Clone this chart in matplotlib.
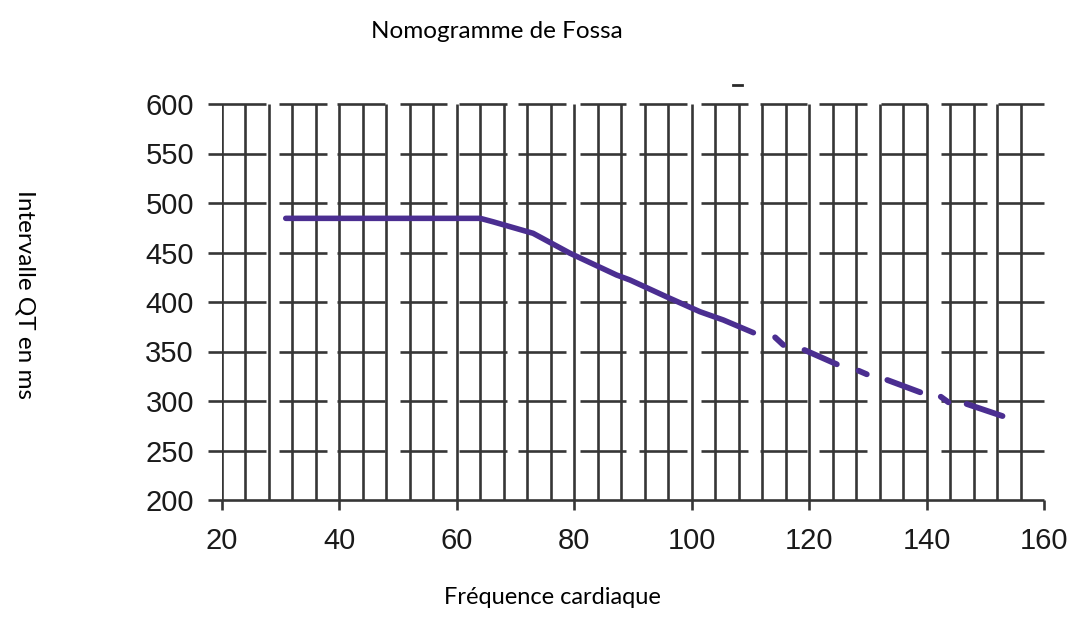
import numpy as np
import matplotlib.pyplot as plt

# Fossa nomogram - QT limit vs heart rate
hr_solid = [30.9, 40, 50, 60, 64.0, 66.2, 73.0, 79.3, 87.2, 89.5, 95.7, 101.4, 105.4, 110.5]
qt_solid = [484.5, 484.5, 484.5, 484.5, 484.5, 481.0, 469.4, 449.2, 427.3, 422.2, 405.3, 390.2, 381.8, 369.0]

# dashed tail, each dash drawn on its own (irregular dashes in the source)
hr_dashes = [(114.2, 115.6), (119.2, 124.7), (128.4, 129.8), (133.3, 138.9), (142.4, 143.7), (146.8, 152.9)]
qt_dashes = [(364.3, 356.6), (351.5, 337.1), (330.6, 327.0), (321.2, 308.8), (304.3, 298.7), (297.0, 284.8)]

xticks = [20, 40, 60, 80, 100, 120, 140, 160]
yticks = [200, 250, 300, 350, 400, 450, 500, 550, 600]

# grid styling (broken horizontal rules of the scanned chart)
vgrid = np.arange(20, 157, 4)
hsegments = [(17.7, 27.5), (29.8, 37.9), (39.6, 47.8), (50.4, 58.4), (60.4, 68.5), (70.5, 78.6),
             (81.0, 88.9), (91.1, 99.2), (101.6, 109.6), (111.7, 119.7), (121.7, 129.8),
             (132.3, 140.1), (142.4, 150.3), (152.2, 160.0)]
gridcol = '#363636'
purple = '#4b2e91'

fig = plt.figure(figsize=(10.78, 6.3), dpi=100)
ax = fig.add_axes([221.7 / 1078, 1 - 500 / 630, 822.5 / 1078, 396 / 630])
ax.set_xlim(20, 160)
ax.set_ylim(200, 600)
for s in ax.spines.values():
    s.set_visible(False)

ax.vlines(vgrid, 200, 600, color=gridcol, lw=1.9, zorder=1)
for y in yticks[1:]:
    for a, b in hsegments:
        ax.hlines(y, a, b, color=gridcol, lw=1.9, clip_on=False, zorder=1)
ax.hlines(200, 17.7, 160, color=gridcol, lw=1.9, clip_on=False, zorder=1)

ax.plot(hr_solid, qt_solid, color=purple, lw=4, solid_capstyle='round', zorder=3)
for xs, ys in zip(hr_dashes, qt_dashes):
    ax.plot(xs, ys, color=purple, lw=4.2, solid_capstyle='round', zorder=3)

# stray mark at top of the scan
ax.plot([107.0, 108.6], [619.5, 619.5], color='#2a2a2a', lw=2, clip_on=False)

ax.set_xticks(xticks)
ax.set_yticks(yticks)
ax.tick_params(axis='x', direction='out', length=7.2, width=1.9, color=gridcol, pad=12,
               labelsize=21, labelcolor='#1a1a1a')
ax.tick_params(axis='y', length=0, pad=20, labelsize=21, labelcolor='#1a1a1a')
for lab in ax.get_xticklabels() + ax.get_yticklabels():
    lab.set_family('Liberation Sans')

fig.text(497 / 1078, 1 - 31 / 630, 'Nomogramme de Fossa', ha='center', va='center',
         fontsize=17.5, family='Lato')
fig.text(552 / 1078, 1 - 598 / 630, 'Fréquence cardiaque', ha='center', va='center',
         fontsize=17, family='Lato')
fig.text(25 / 1078, 1 - 295 / 630, 'Intervalle QT en ms', ha='center', va='center',
         rotation=-90, fontsize=17.5, family='Lato')

fig.savefig('out.png', dpi=100)
